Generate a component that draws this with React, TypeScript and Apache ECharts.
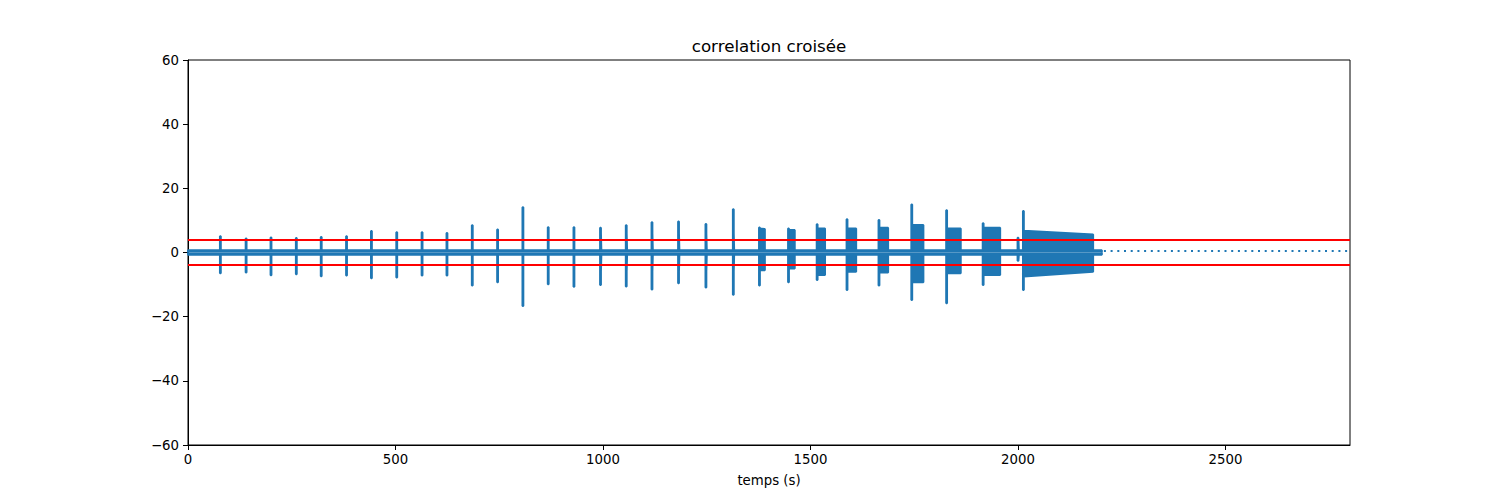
import React, { useEffect, useRef } from "react";
import * as echarts from "echarts";

// Burst events (time in s, amplitudes)
const burstStart = [77, 139, 199, 260, 320, 381, 441, 502, 563, 623, 684, 745, 806, 867, 929, 993, 1055, 1117, 1181, 1247, 1313, 1376, 1446, 1515, 1587, 1664, 1743, 1827, 1915, 1999, 2012];
const burstEnd = [79, 141, 201, 262, 322, 383, 443, 504, 565, 625, 686, 747, 808, 869, 931, 996, 1058, 1120, 1184, 1250, 1316, 1390, 1462, 1535, 1610, 1687, 1772, 1862, 1957, 2002, 2181];
const peakTop = [5.1, 4.4, 4.7, 4.5, 4.8, 5.1, 6.7, 6.3, 6.3, 6.1, 8.5, 7.2, 14.1, 7.9, 7.9, 7.7, 8.5, 9.4, 9.7, 8.9, 13.5, 7.8, 7.5, 8.8, 10.4, 10.1, 15.0, 13.2, 9.1, 4.6, 12.9];
const peakBottom = [-6.5, -6.2, -7.1, -6.8, -7.4, -7.2, -8.0, -7.8, -7.2, -7.2, -10.3, -9.3, -16.7, -9.9, -10.7, -10.1, -10.6, -11.5, -9.6, -10.9, -13.2, -10.3, -9.3, -8.6, -11.7, -10.3, -14.8, -15.8, -10.1, -2.6, -11.7];
const plateauTopStart = [5.1, 4.4, 4.7, 4.5, 4.8, 5.1, 6.7, 6.3, 6.3, 6.1, 8.5, 7.2, 14.1, 7.9, 7.9, 6.0, 6.0, 6.0, 6.0, 6.0, 6.0, 7.5, 7.0, 7.5, 7.5, 7.7, 8.6, 7.5, 7.7, 4.6, 6.8];
const plateauTopEnd = [5.1, 4.4, 4.7, 4.5, 4.8, 5.1, 6.7, 6.3, 6.3, 6.1, 8.5, 7.2, 14.1, 7.9, 7.9, 6.0, 6.0, 6.0, 6.0, 6.0, 6.0, 7.3, 7.0, 7.5, 7.5, 7.7, 8.6, 7.5, 7.7, 4.6, 5.6];
const plateauBottomStart = [-6.5, -6.2, -7.1, -6.8, -7.4, -7.2, -8.0, -7.8, -7.2, -7.2, -10.3, -9.3, -16.7, -9.9, -10.7, -6.0, -6.0, -6.0, -6.0, -6.0, -6.0, -5.5, -5.0, -7.0, -6.0, -6.2, -9.3, -6.5, -7.0, -2.6, -7.5];
const plateauBottomEnd = [-6.5, -6.2, -7.1, -6.8, -7.4, -7.2, -8.0, -7.8, -7.2, -7.2, -10.3, -9.3, -16.7, -9.9, -10.7, -6.0, -6.0, -6.0, -6.0, -6.0, -6.0, -5.5, -5.0, -7.0, -6.0, -6.2, -9.3, -6.5, -7.0, -2.6, -6.0];

const baseNoise = 0.7;
const signalEnd = 2202;
const zeroPadLevel = 0.45;
const thresholds = [3.9, -3.9];
const xMax = 2800;

function envelope(sign: 1 | -1): number[][] {
  const pts: number[][] = [[0, 0], [0, sign * baseNoise]];
  for (let i = 0; i < burstStart.length; i++) {
    const s = burstStart[i];
    const e = burstEnd[i];
    const pk = sign > 0 ? peakTop[i] : peakBottom[i];
    const ps = sign > 0 ? plateauTopStart[i] : plateauBottomStart[i];
    const pe = sign > 0 ? plateauTopEnd[i] : plateauBottomEnd[i];
    const pw = Math.min(2, e - s);
    pts.push([s, sign * baseNoise], [s, pk], [s + pw, pk], [s + pw, ps], [e, pe], [e, sign * baseNoise]);
  }
  pts.push([signalEnd, sign * baseNoise], [signalEnd, 0]);
  return pts;
}

const BLUE = "#1f77b4";
const FONT = "DejaVu Sans";

export default function App() {
  const ref = useRef<HTMLDivElement>(null);
  useEffect(() => {
    document.body.style.margin = "0";
    const chart = echarts.init(ref.current!, null, { renderer: "svg" });
    const minusFmt = (v: number) => (v < 0 ? "\u2212" + Math.abs(v) : String(v));
    chart.setOption({
      animation: false,
      grid: { left: 188, right: 150, top: 60, bottom: 55, show: true, borderColor: "#000", borderWidth: 1, backgroundColor: "transparent" },
      graphic: [
        {
          type: "text",
          x: 769,
          y: 46,
          style: { text: "correlation croisée", font: `16.7px '${FONT}'`, fill: "#000", textAlign: "center", textVerticalAlign: "middle" },
        },
      ],
      xAxis: {
        type: "value",
        min: 0,
        max: xMax,
        interval: 500,
        name: "temps (s)",
        nameLocation: "middle",
        nameGap: 29,
        nameTextStyle: { color: "#000", fontSize: 13.3, fontFamily: FONT },
        axisLine: { show: true, onZero: false, lineStyle: { color: "#000", width: 1 } },
        axisTick: { show: true, length: 5, lineStyle: { color: "#000" } },
        axisLabel: { color: "#000", fontSize: 13.3, fontFamily: FONT, margin: 8, formatter: minusFmt, showMaxLabel: false },
        splitLine: { show: false },
      },
      yAxis: {
        type: "value",
        min: -60,
        max: 60,
        interval: 20,
        axisLine: { show: true, onZero: false, lineStyle: { color: "#000", width: 1 } },
        axisTick: { show: true, length: 5, lineStyle: { color: "#000" } },
        axisLabel: { color: "#000", fontSize: 13.3, fontFamily: FONT, margin: 9, formatter: minusFmt },
        splitLine: { show: false },
      },
      series: [
        {
          type: "line",
          data: envelope(1),
          symbol: "none",
          lineStyle: { color: BLUE, width: 2 },
          areaStyle: { color: BLUE, opacity: 1, origin: 0 },
          z: 2,
        },
        {
          type: "line",
          data: envelope(-1),
          symbol: "none",
          lineStyle: { color: BLUE, width: 2 },
          areaStyle: { color: BLUE, opacity: 1, origin: 0 },
          z: 2,
        },
        {
          type: "line",
          data: [[signalEnd + 5, zeroPadLevel], [xMax, zeroPadLevel]],
          symbol: "none",
          lineStyle: { color: BLUE, width: 2, type: [2, 4.7] },
          z: 2,
        },
        ...thresholds.map((t) => ({
          type: "line",
          data: [[0, t], [xMax, t]],
          symbol: "none",
          lineStyle: { color: "#ff0000", width: 2 },
          z: 3,
        })),
      ],
    });
    return () => chart.dispose();
  }, []);
  return <div ref={ref} style={{ width: 1500, height: 500 }} />;
}
